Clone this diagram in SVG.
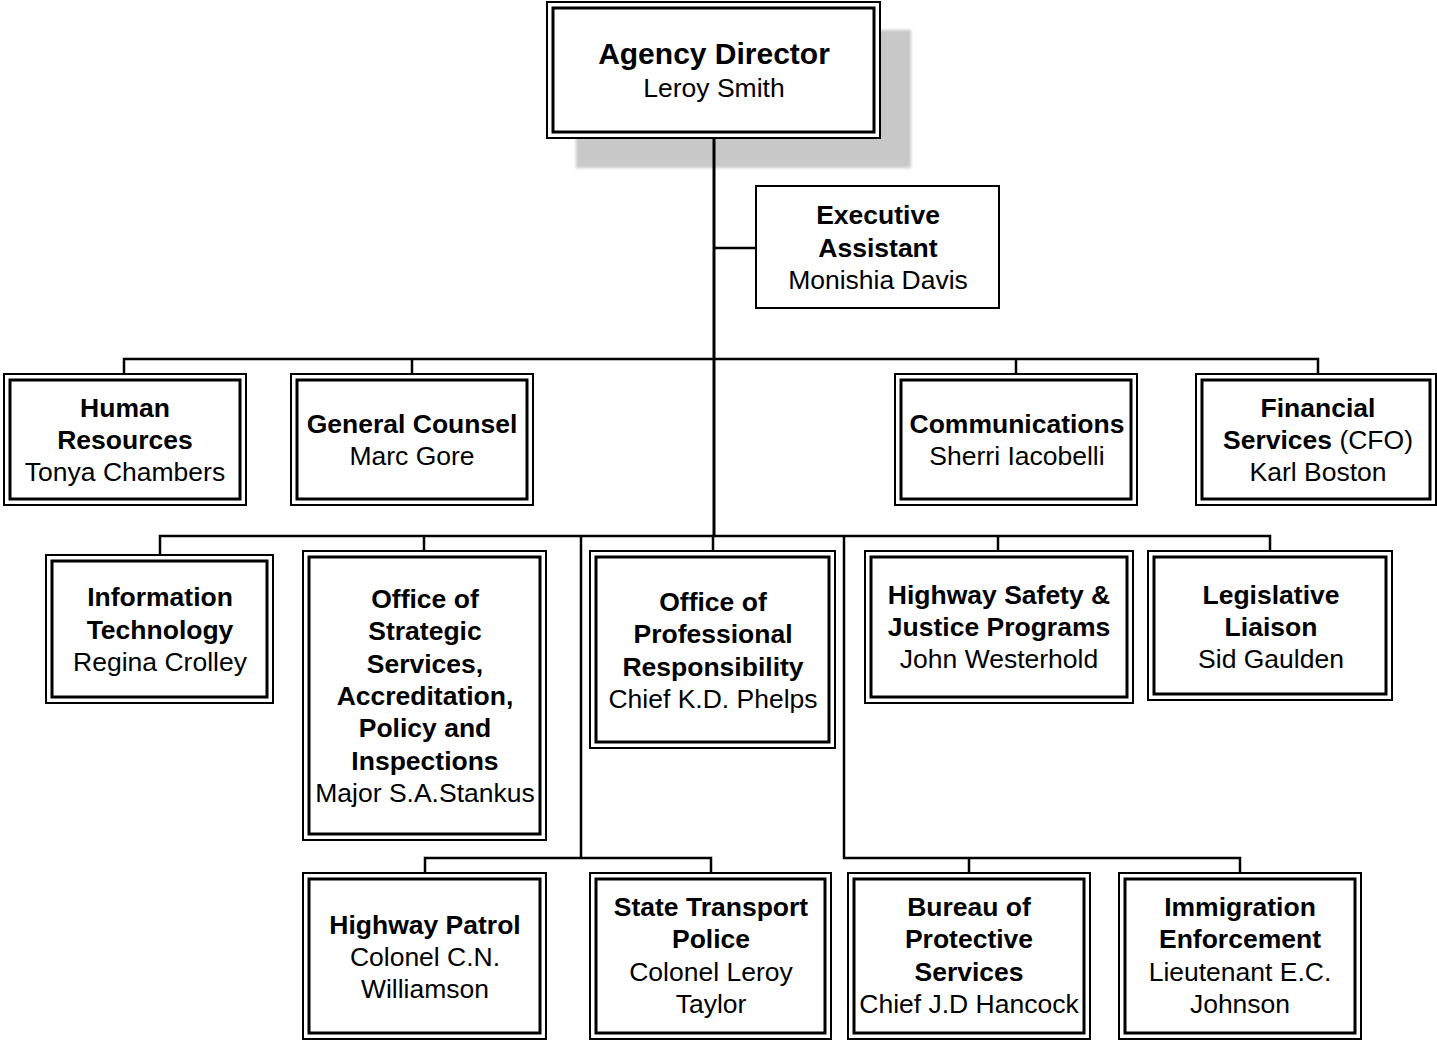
<svg xmlns="http://www.w3.org/2000/svg" width="1437" height="1040" viewBox="0 0 1437 1040">
<style>
.o{fill:#fff;stroke:#000;stroke-width:2}
.i{fill:none;stroke:#000;stroke-width:3}
.s{fill:#fff;stroke:#000;stroke-width:2}
text{font-family:"Liberation Sans",Arial,sans-serif;font-size:26.5px;text-anchor:middle;fill:#000}
.b{font-weight:bold}
.t{font-size:30px;font-weight:bold}
.c{fill:none;stroke:#000;stroke-width:2.5}
.tr{fill:none;stroke:#000;stroke-width:3}
</style>
<defs>
<filter id="blur" x="-5%" y="-5%" width="110%" height="110%"><feGaussianBlur stdDeviation="1.5"/></filter>
</defs>
<rect x="0" y="0" width="1437" height="1040" fill="#fff"/>
<g id="director">
<rect x="576" y="30" width="335" height="138" fill="#c8c8c8" filter="url(#blur)"/>
<rect class="o" x="547" y="2" width="333" height="136"/>
<rect class="i" x="553" y="8" width="321" height="124"/>
<text class="t" x="714" y="64">Agency Director</text>
<text x="714" y="97">Leroy Smith</text>
</g>
<g id="connectors">
<path class="tr" d="M714 139V536"/>
<path class="c" d="M714 248H756"/>
<path class="c" d="M124 374V359H1318V374M412 359V374M1016 359V374"/>
<path class="c" d="M160 555V536H1270V551M424 536V551M713 536V551M998 536V551"/>
<path class="c" d="M581 536V858M425 873V858H711V873"/>
<path class="c" d="M844 536V858H1240V873M969 858V873"/>
</g>
<g id="exec">
<rect class="s" x="756" y="186" width="243" height="122"/>
<text class="b" x="878" y="224">Executive</text>
<text class="b" x="878" y="257">Assistant</text>
<text x="878" y="289">Monishia Davis</text>
</g>
<g id="hr">
<rect class="o" x="4" y="374" width="242" height="131"/>
<rect class="i" x="10" y="380" width="230" height="119"/>
<text class="b" x="125" y="417">Human</text>
<text class="b" x="125" y="449">Resources</text>
<text x="125" y="481">Tonya Chambers</text>
</g>
<g id="gc">
<rect class="o" x="291" y="374" width="242" height="131"/>
<rect class="i" x="297" y="380" width="230" height="119"/>
<text class="b" x="412" y="433">General Counsel</text>
<text x="412" y="465">Marc Gore</text>
</g>
<g id="comm">
<rect class="o" x="895" y="374" width="242" height="131"/>
<rect class="i" x="901" y="380" width="230" height="119"/>
<text class="b" x="1017" y="433">Communications</text>
<text x="1017" y="465">Sherri Iacobelli</text>
</g>
<g id="fin">
<rect class="o" x="1196" y="374" width="240" height="131"/>
<rect class="i" x="1202" y="380" width="228" height="119"/>
<text class="b" x="1318" y="417">Financial</text>
<text x="1318" y="449"><tspan class="b">Services</tspan> (CFO)</text>
<text x="1318" y="481">Karl Boston</text>
</g>
<g id="it">
<rect class="o" x="46" y="555" width="227" height="148"/>
<rect class="i" x="52" y="561" width="215" height="136"/>
<text class="b" x="160" y="606">Information</text>
<text class="b" x="160" y="639">Technology</text>
<text x="160" y="671">Regina Crolley</text>
</g>
<g id="oss">
<rect class="o" x="303" y="551" width="243" height="289"/>
<rect class="i" x="309" y="557" width="231" height="277"/>
<text class="b" x="425" y="608">Office of</text>
<text class="b" x="425" y="640">Strategic</text>
<text class="b" x="425" y="673">Services,</text>
<text class="b" x="425" y="705">Accreditation,</text>
<text class="b" x="425" y="737">Policy and</text>
<text class="b" x="425" y="770">Inspections</text>
<text x="425" y="802">Major S.A.Stankus</text>
</g>
<g id="opr">
<rect class="o" x="590" y="551" width="245" height="197"/>
<rect class="i" x="596" y="557" width="233" height="185"/>
<text class="b" x="713" y="611">Office of</text>
<text class="b" x="713" y="643">Professional</text>
<text class="b" x="713" y="676">Responsibility</text>
<text x="713" y="708">Chief K.D. Phelps</text>
</g>
<g id="hsj">
<rect class="o" x="865" y="551" width="268" height="152"/>
<rect class="i" x="871" y="557" width="256" height="140"/>
<text class="b" x="999" y="604">Highway Safety &amp;</text>
<text class="b" x="999" y="636">Justice Programs</text>
<text x="999" y="668">John Westerhold</text>
</g>
<g id="ll">
<rect class="o" x="1148" y="551" width="244" height="149"/>
<rect class="i" x="1154" y="557" width="232" height="137"/>
<text class="b" x="1271" y="604">Legislative</text>
<text class="b" x="1271" y="636">Liaison</text>
<text x="1271" y="668">Sid Gaulden</text>
</g>
<g id="hp">
<rect class="o" x="303" y="873" width="243" height="166"/>
<rect class="i" x="309" y="879" width="231" height="154"/>
<text class="b" x="425" y="934">Highway Patrol</text>
<text x="425" y="966">Colonel C.N.</text>
<text x="425" y="998">Williamson</text>
</g>
<g id="stp">
<rect class="o" x="590" y="873" width="241" height="166"/>
<rect class="i" x="596" y="879" width="229" height="154"/>
<text class="b" x="711" y="916">State Transport</text>
<text class="b" x="711" y="948">Police</text>
<text x="711" y="981">Colonel Leroy</text>
<text x="711" y="1013">Taylor</text>
</g>
<g id="bps">
<rect class="o" x="848" y="873" width="242" height="166"/>
<rect class="i" x="854" y="879" width="230" height="154"/>
<text class="b" x="969" y="916">Bureau of</text>
<text class="b" x="969" y="948">Protective</text>
<text class="b" x="969" y="981">Services</text>
<text x="969" y="1013">Chief J.D Hancock</text>
</g>
<g id="ie">
<rect class="o" x="1119" y="873" width="242" height="166"/>
<rect class="i" x="1125" y="879" width="230" height="154"/>
<text class="b" x="1240" y="916">Immigration</text>
<text class="b" x="1240" y="948">Enforcement</text>
<text x="1240" y="981">Lieutenant E.C.</text>
<text x="1240" y="1013">Johnson</text>
</g>
</svg>
